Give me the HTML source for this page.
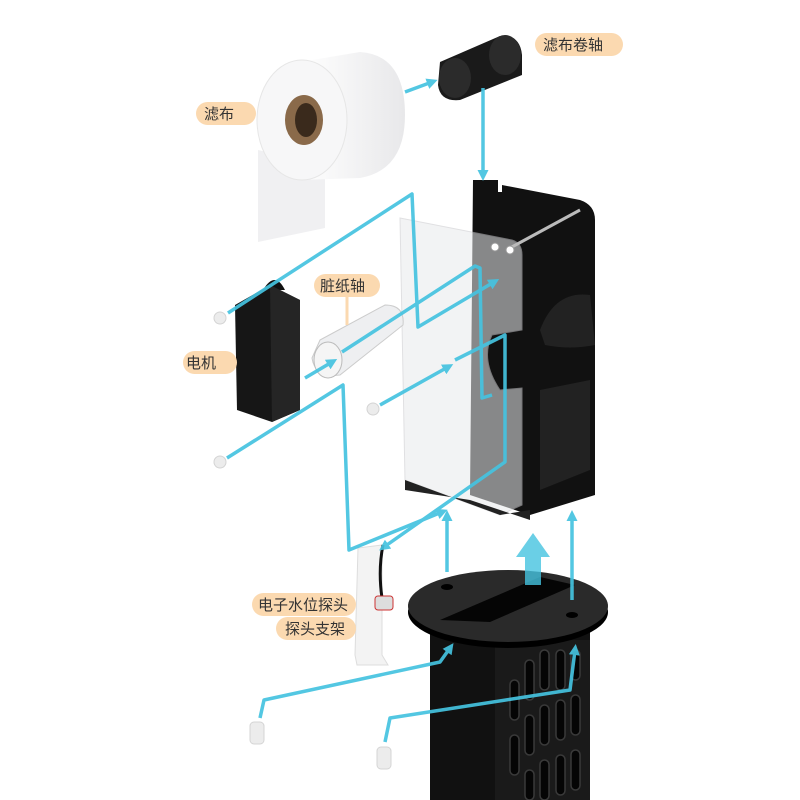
<!DOCTYPE html>
<html><head><meta charset="utf-8"><style>
html,body{margin:0;padding:0;background:#fff;width:800px;height:800px;overflow:hidden}
text{font-family:"Liberation Sans","Noto Sans CJK SC",sans-serif;font-size:15px;fill:#333}
</style></head><body>
<svg width="800" height="800" viewBox="0 0 800 800" xmlns="http://www.w3.org/2000/svg">
<defs>
<marker id="a" markerUnits="userSpaceOnUse" markerWidth="11" markerHeight="11" refX="5" refY="5.5" orient="auto"><path d="M0,0L11,5.5L0,11z" fill="#45c3e0"/></marker>
<linearGradient id="roll" x1="0" x2="1"><stop offset="0" stop-color="#fff"/><stop offset="1" stop-color="#e8e8ea"/></linearGradient>
</defs>
<path d="M258,150 L325,165 L325,228 L258,242z" fill="#f0f0f2"/>
<path d="M300,62 L360,52 Q405,55 405,115 Q405,170 360,178 L300,180z" fill="url(#roll)"/>
<ellipse cx="302" cy="120" rx="45" ry="60" fill="#f7f7f8" stroke="#e6e6e6"/>
<ellipse cx="304" cy="120" rx="19" ry="25" fill="#8a6a4a"/>
<ellipse cx="306" cy="120" rx="11" ry="17" fill="#3a2a1c"/>
<path d="M440,62 L500,36 Q520,34 522,55 L522,75 L460,100 Q440,102 438,85z" fill="#1a1a1a"/>
<ellipse cx="455" cy="78" rx="16" ry="20" fill="#2b2b2b"/>
<ellipse cx="505" cy="55" rx="16" ry="20" fill="#2b2b2b"/>
<path d="M473,180 L498,180 L498,192 L502,192 L502,185 L580,200 Q595,205 595,220 L595,495 L530,515 L470,495z" fill="#111"/>
<path d="M540,330 Q555,290 590,295 L595,345 Q570,350 545,345z" fill="#222"/>
<path d="M540,390 L590,380 L590,470 L540,490z" fill="#333" opacity="0.5"/>
<path d="M400,218 L512,240 Q522,243 522,255 L522,330 L492,335 Q480,360 500,390 L522,388 L522,505 L500,515 L405,480z" fill="#e9eaec" opacity="0.55" stroke="#c8c8cc"/>
<path d="M405,480 L500,515 L530,510 L530,520 L470,500 L405,490z" fill="#222"/>
<line x1="510" y1="248" x2="580" y2="210" stroke="#bbb" stroke-width="3"/>
<circle cx="495" cy="247" r="4" fill="#fff" stroke="#999"/>
<circle cx="510" cy="250" r="4" fill="#fff" stroke="#999"/>
<path d="M235,305 L270,285 L300,300 L300,410 L272,422 L237,410z" fill="#161616"/>
<path d="M263,290 Q275,270 285,290z" fill="#111"/>
<path d="M270,285 L300,300 L300,410 L272,422z" fill="#252525"/>
<path d="M320,340 L385,305 Q405,305 403,325 L340,375 Q315,378 312,358z" fill="#eeeff1" stroke="#ccc"/>
<ellipse cx="328" cy="360" rx="14" ry="18" fill="#f5f5f5" stroke="#bbb"/>
<g fill="#ececec" stroke="#d4d4d4">
<circle cx="220" cy="318" r="6"/><circle cx="220" cy="462" r="6"/><circle cx="373" cy="409" r="6"/>
<rect x="250" y="722" width="14" height="22" rx="4"/><rect x="377" y="747" width="14" height="22" rx="4"/>
</g>
<path d="M358,548 L382,545 L382,655 L388,665 L357,665 L355,655z" fill="#f3f3f3" stroke="#ddd"/>
<path d="M383,545 Q378,570 382,598" stroke="#111" stroke-width="3" fill="none"/>
<rect x="375" y="596" width="18" height="14" rx="3" fill="#ddd" stroke="#c33"/>
<path d="M430,625 L590,625 L590,800 L430,800z" fill="#111"/>
<path d="M495,640 L590,640 L590,800 L495,800z" fill="#1a1a1a"/>
<g fill="#050505" stroke="#3a3a3a" stroke-width="1.5">
<rect x="510" y="680" width="9" height="40" rx="4.5"/><rect x="525" y="660" width="9" height="40" rx="4.5"/><rect x="540" y="650" width="9" height="40" rx="4.5"/><rect x="556" y="650" width="9" height="40" rx="4.5"/><rect x="571" y="650" width="9" height="30" rx="4.5"/>
<rect x="510" y="735" width="9" height="40" rx="4.5"/><rect x="525" y="715" width="9" height="40" rx="4.5"/><rect x="540" y="705" width="9" height="40" rx="4.5"/><rect x="556" y="700" width="9" height="40" rx="4.5"/><rect x="571" y="695" width="9" height="40" rx="4.5"/>
<rect x="525" y="770" width="9" height="30" rx="4.5"/><rect x="540" y="760" width="9" height="40" rx="4.5"/><rect x="556" y="755" width="9" height="40" rx="4.5"/><rect x="571" y="750" width="9" height="40" rx="4.5"/>
</g>
<ellipse cx="508" cy="612" rx="100" ry="36" fill="#000"/>
<ellipse cx="508" cy="606" rx="100" ry="36" fill="#2a2a2a"/>
<path d="M440,620 L540,577 L575,585 L490,622z" fill="#050505"/>
<ellipse cx="447" cy="587" rx="6" ry="3" fill="#000"/><ellipse cx="572" cy="615" rx="6" ry="3" fill="#000"/>
<g stroke="#45c3e0" stroke-width="3.5" fill="none" stroke-linejoin="round" opacity="0.92">
<path d="M405,92 L432,82" marker-end="url(#a)"/>
<path d="M483,88 L483,175" marker-end="url(#a)"/>
<path d="M228,313 L412,194 L418,327 L494,282" marker-end="url(#a)"/>
<path d="M305,378 L332,362" marker-end="url(#a)"/>
<path d="M342,352 L475,266 L480,268 L482,398 L492,395"/>
<path d="M380,405 L448,367" marker-end="url(#a)"/>
<path d="M455,360 L505,335 L505,462 L384,547" marker-end="url(#a)"/>
<path d="M227,458 L343,385 L349,550 L442,512" marker-end="url(#a)"/>
<path d="M260,718 L264,700 L440,662 L450,648" marker-end="url(#a)"/>
<path d="M385,742 L390,718 L570,690 L575,650" marker-end="url(#a)"/>
<path d="M447,572 L447,516" marker-end="url(#a)"/>
<path d="M572,600 L572,516" marker-end="url(#a)"/>
</g>
<path d="M525,585 L525,557 L516,557 L533,533 L550,557 L541,557 L541,585z" fill="#45c3e0" opacity="0.8"/>
<g fill="#fbd9b0">
<rect x="535" y="33" width="88" height="23" rx="11.5"/>
<rect x="196" y="102" width="60" height="23" rx="11.5"/>
<rect x="314" y="274" width="66" height="23" rx="11.5"/>
<rect x="183" y="351" width="54" height="23" rx="11.5"/>
<rect x="252" y="593" width="104" height="23" rx="11.5"/>
<rect x="276" y="617" width="80" height="23" rx="11.5"/>
</g>
<line x1="347" y1="297" x2="347" y2="325" stroke="#fbd9b0" stroke-width="3"/>
<text x="543" y="50">滤布卷轴</text>
<text x="204" y="119">滤布</text>
<text x="320" y="291">脏纸轴</text>
<text x="186" y="368">电机</text>
<text x="258" y="610">电子水位探头</text>
<text x="285" y="634">探头支架</text>
</svg>
</body></html>
